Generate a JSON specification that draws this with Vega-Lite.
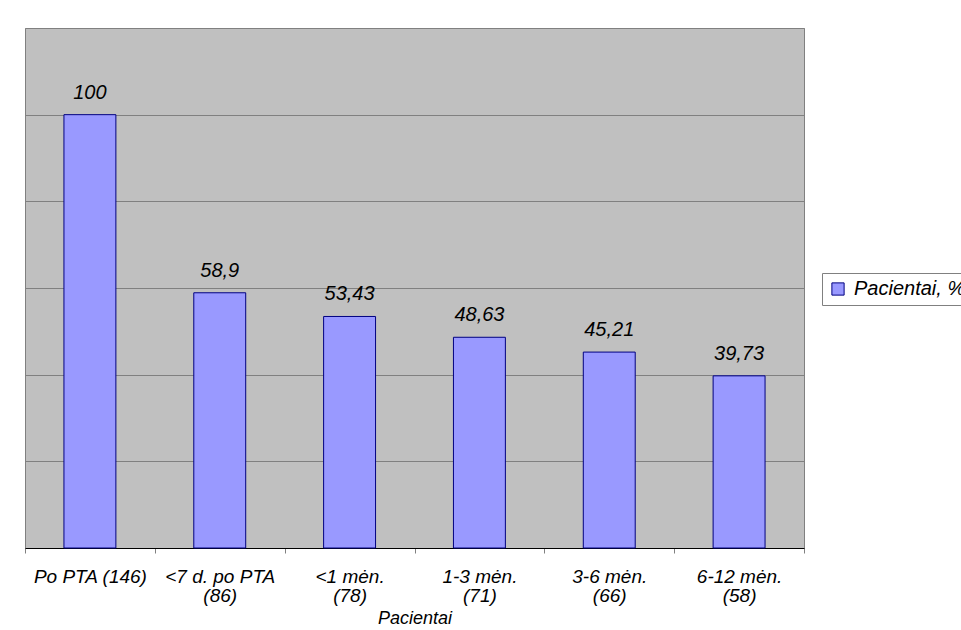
{
  "$schema": "https://vega.github.io/schema/vega-lite/v6.json",
  "width": 779,
  "height": 520,
  "autosize": {"type": "none"},
  "padding": {"left": 25, "top": 28, "right": 157, "bottom": 82},
  "background": "white",
  "config": {
    "font": "Liberation Sans",
    "locale": {"number": {"decimal": ",", "thousands": " ", "grouping": [3], "currency": ["", " €"]}},
    "view": {"fill": "#C0C0C0", "stroke": "#808080", "strokeWidth": 1}
  },
  "data": {
    "values": [
      {"grupe": "Po PTA (146)", "proc": 100, "serija": "Pacientai, %"},
      {"grupe": "<7 d. po PTA\n(86)", "proc": 58.9, "serija": "Pacientai, %"},
      {"grupe": "<1 mėn.\n(78)", "proc": 53.43, "serija": "Pacientai, %"},
      {"grupe": "1-3 mėn.\n(71)", "proc": 48.63, "serija": "Pacientai, %"},
      {"grupe": "3-6 mėn.\n(66)", "proc": 45.21, "serija": "Pacientai, %"},
      {"grupe": "6-12 mėn.\n(58)", "proc": 39.73, "serija": "Pacientai, %"}
    ]
  },
  "encoding": {
    "x": {
      "field": "grupe",
      "type": "nominal",
      "sort": null,
      "scale": {"paddingInner": 0, "paddingOuter": 0},
      "axis": {
        "labelExpr": "split(datum.label, '\\n')",
        "labelAngle": 0,
        "labelFontSize": 19,
        "labelFontStyle": "italic",
        "labelColor": "#000000",
        "labelPadding": 14,
        "labelLineHeight": 19,
        "grid": false,
        "tickBand": "extent",
        "tickSize": 5,
        "tickColor": "#808080",
        "domainColor": "#000000",
        "title": "Pacientai",
        "titleFontSize": 18,
        "titleFontStyle": "italic",
        "titleFontWeight": "normal",
        "titleColor": "#000000",
        "titlePadding": 4
      }
    },
    "y": {
      "field": "proc",
      "type": "quantitative",
      "scale": {"domain": [0, 120]},
      "axis": {
        "values": [0, 20, 40, 60, 80, 100, 120],
        "labels": false,
        "ticks": false,
        "domain": false,
        "title": null,
        "gridColor": "#808080",
        "gridOpacity": 1,
        "gridWidth": 1
      }
    }
  },
  "layer": [
    {
      "mark": {"type": "bar", "width": {"band": 0.4}, "stroke": "#000080", "strokeWidth": 1},
      "encoding": {
        "color": {
          "field": "serija",
          "type": "nominal",
          "scale": {"range": ["#9999FF"]},
          "legend": {
            "title": null,
            "orient": "none",
            "legendX": 797,
            "legendY": 245,
            "strokeColor": "#808080",
            "fillColor": "#FFFFFF",
            "padding": 6,
            "symbolType": "square",
            "symbolSize": 150,
            "symbolStrokeColor": "#000080",
            "symbolStrokeWidth": 1,
            "symbolOpacity": 1,
            "labelOffset": 6,
            "labelFontSize": 20,
            "labelFontStyle": "italic",
            "labelColor": "#000000",
            "labelLimit": 300
          }
        }
      }
    },
    {
      "mark": {"type": "text", "fontSize": 20, "fontStyle": "italic", "color": "#000000", "baseline": "alphabetic", "dy": -16},
      "encoding": {
        "text": {"field": "proc", "type": "quantitative", "format": "~g"}
      }
    }
  ]
}
